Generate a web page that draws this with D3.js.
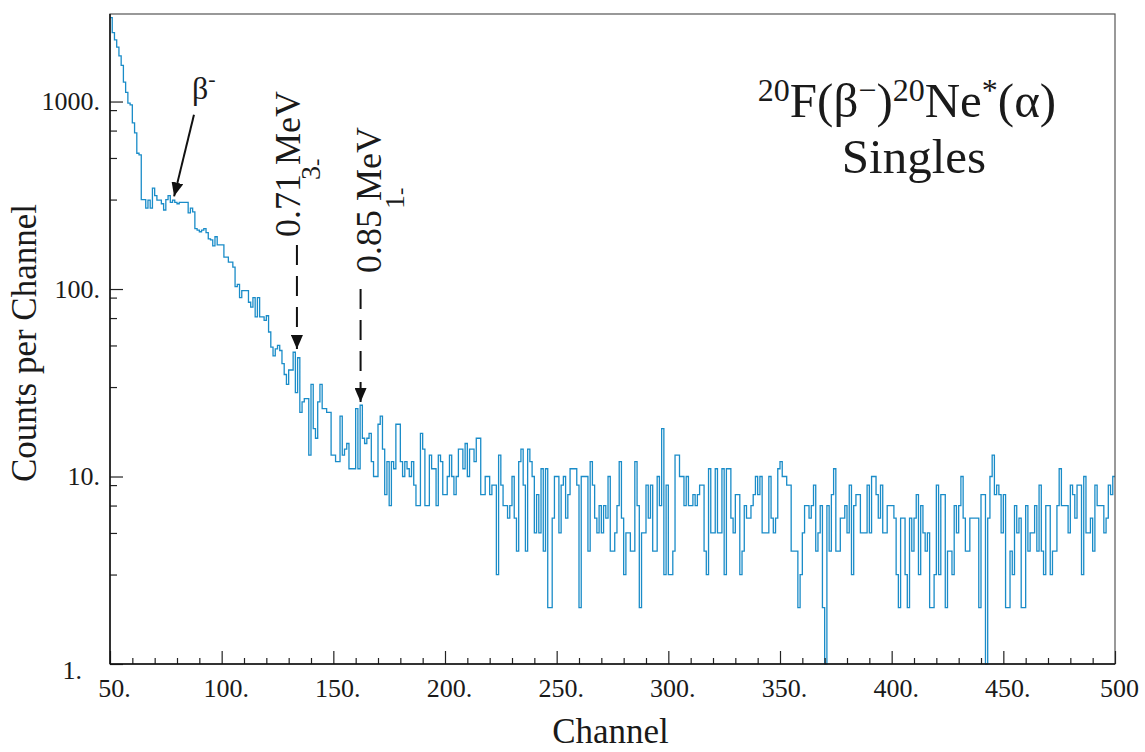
<!DOCTYPE html>
<html>
<head>
<meta charset="utf-8">
<script src="https://cdn.jsdelivr.net/npm/d3@7/dist/d3.min.js"></script>
<style>
  body { margin: 0; background: #fff; }
  svg, text { font-family: 'Liberation Serif', 'Times New Roman', serif; }
  text { fill: #1a1a1a; }
</style>
</head>
<body>
<svg id="chart" width="1145" height="752" font-family="Liberation Serif"></svg>
<script>
// histogram: one count per channel, first bin starts at channel 50
const firstChannel = 50;
const counts = [
  2800, 2330, 2130, 1950, 1750, 1560, 1270, 1120, 980, 960,
  770, 680, 530, 520, 300, 300, 270, 298, 270, 345,
  315, 298, 298, 285, 264, 300, 315, 290, 298, 290,
  285, 290, 290, 290, 290, 255, 270, 258, 210, 206,
  202, 206, 210, 200, 185, 183, 170, 190, 172, 172,
  172, 148, 148, 139, 139, 131, 103, 106, 90, 98,
  98, 98, 85, 80, 90, 71, 90, 71, 71, 68,
  72, 59, 49, 44, 48, 50, 47, 40, 35, 31,
  37, 37, 46, 28, 43, 22, 25, 26, 26, 13,
  31, 18, 16, 25, 31, 23, 23, 22, 22, 13,
  13, 12, 12, 21, 13, 14, 15, 11, 11, 11,
  23, 11, 24, 16, 15, 16, 17, 12, 10, 10,
  19, 21, 14, 8, 12, 7, 12, 11, 19, 19,
  12, 10, 12, 11, 10, 12, 9, 7, 7, 17,
  14, 7, 7, 13, 11, 11, 7, 13, 12, 8,
  8, 10, 13, 10, 8, 10, 14, 14, 11, 15,
  10, 14, 14, 12, 16, 16, 8, 8, 10, 10,
  8, 9, 9, 3, 13, 9, 7, 7, 6, 7,
  10, 6, 4, 12, 14, 9, 4, 14, 12, 10,
  5, 8, 5, 11, 4, 11, 2, 2, 6, 10,
  10, 5, 9, 10, 6, 8, 11, 11, 11, 9,
  2, 10, 10, 10, 4, 12, 9, 6, 5, 7,
  5, 7, 6, 10, 4, 4, 5, 7, 12, 6,
  3, 5, 5, 4, 4, 12, 7, 2, 5, 5,
  9, 6, 9, 4, 4, 10, 7, 18, 3, 9,
  3, 3, 4, 13, 13, 10, 10, 7, 10, 7,
  7, 8, 7, 8, 9, 9, 4, 3, 11, 5,
  5, 11, 5, 5, 11, 3, 11, 11, 6, 5,
  8, 8, 3, 4, 7, 6, 6, 7, 8, 10,
  8, 10, 5, 5, 5, 10, 6, 5, 6, 11,
  12, 10, 10, 9, 9, 4, 4, 4, 2, 3,
  5, 7, 7, 6, 7, 9, 4, 5, 7, 2,
  1, 7, 4, 8, 11, 4, 4, 6, 6, 7,
  5, 9, 3, 7, 8, 8, 5, 5, 5, 9,
  5, 10, 10, 8, 6, 9, 5, 5, 7, 7,
  7, 6, 3, 2, 6, 6, 3, 2, 6, 4,
  6, 8, 3, 7, 5, 4, 5, 2, 2, 3,
  9, 3, 8, 8, 2, 4, 4, 3, 7, 5,
  7, 10, 6, 4, 4, 6, 6, 6, 6, 2,
  8, 8, 1, 6, 10, 13, 8, 9, 8, 5,
  8, 2, 2, 4, 3, 7, 5, 6, 2, 2,
  7, 4, 5, 5, 7, 4, 9, 4, 3, 7,
  7, 3, 4, 4, 7, 11, 7, 7, 7, 5,
  9, 8, 6, 9, 9, 3, 10, 5, 5, 6,
  4, 9, 7, 7, 7, 5, 6, 9, 8, 10
];

const xMajor = [50, 100, 150, 200, 250, 300, 350, 400, 450, 500];
const xMajorLabels = ["50.", "100.", "150.", "200.", "250.", "300.", "350.", "400.", "450.", "500"];
const yMajor = [1, 10, 100, 1000];
const yMajorLabels = ["1.", "10.", "100.", "1000."];
const yMinorMultiples = [3, 5, 7, 9];

// level lines marked on the plot
const levels = [
  { energy: "0.71 MeV", spin: "3", channel: 133.7 },
  { energy: "0.85 MeV", spin: "1", channel: 162.2 }
];

const serif = "'Liberation Serif', 'Times New Roman', serif";
const svg = d3.select('#chart');
const width = 1145, height = 752;
const margin = { left: 110, right: 30, top: 14, bottom: 88 };
const plotW = width - margin.left - margin.right;
const plotH = height - margin.top - margin.bottom;

const x = d3.scaleLinear().domain([50, 500]).range([0, plotW]);
const y = d3.scaleLog().domain([1, 2930]).range([plotH, 0]);

const g = svg.append('g').attr('transform', `translate(${margin.left},${margin.top})`);

g.append('clipPath').attr('id', 'clip')
  .append('rect').attr('width', plotW).attr('height', plotH + 1);

// histogram as steps
let pts = counts.map((c, i) => [firstChannel + i, c]);
pts.push([firstChannel + counts.length, counts[counts.length - 1]]);
const step = d3.line()
  .x(d => x(d[0]))
  .y(d => y(d[1]))
  .curve(d3.curveStepAfter);

g.append('path')
  .datum(pts)
  .attr('clip-path', 'url(#clip)')
  .attr('fill', 'none')
  .attr('stroke', '#1a8cc8')
  .attr('stroke-width', 1.3)
  .attr('d', step);

// frame
g.append('rect')
  .attr('width', plotW).attr('height', plotH)
  .attr('fill', 'none').attr('stroke', '#555').attr('stroke-width', 1.2);

// x axis, ticks pointing in
let xMinor = d3.range(50, 501, 10).filter(v => xMajor.indexOf(v) < 0);
g.append('g').attr('transform', `translate(0,${plotH})`)
  .call(d3.axisBottom(x).tickValues(xMinor).tickSize(-6).tickFormat(''))
  .call(a => a.select('.domain').remove());
let xAxis = g.append('g').attr('transform', `translate(0,${plotH})`)
  .call(d3.axisBottom(x).tickValues(xMajor).tickSize(-13).tickPadding(15)
    .tickFormat((d, i) => xMajorLabels[i]))
  .call(a => a.select('.domain').remove())
  .attr('font-family', serif).attr('font-size', 26);
xAxis.selectAll('text')
  .attr('dx', 4)
  .style('font-family', serif).attr('fill', '#1a1a1a');

// y axis
let yMinor = [];
yMajor.forEach(d => yMinorMultiples.forEach(m => { if (d * m < 2930) yMinor.push(d * m); }));
g.append('g')
  .call(d3.axisLeft(y).tickValues(yMinor).tickSize(-7).tickFormat(''))
  .call(a => a.select('.domain').remove());
let yAxis = g.append('g')
  .call(d3.axisLeft(y).tickValues(yMajor).tickSize(-13).tickPadding(10)
    .tickFormat((d, i) => yMajorLabels[i]))
  .call(a => a.select('.domain').remove())
  .attr('font-family', serif).attr('font-size', 26);
yAxis.selectAll('text')
  .style('font-family', serif).attr('fill', '#1a1a1a');
// the lowest label sits left of the "50." label, as in the original
yAxis.selectAll('text').filter(d => d === 1).attr('dx', -18).attr('dy', '0.55em');

g.selectAll('.tick line').attr('stroke', '#222').attr('stroke-width', 1.2);

g.append('line').attr('x1', 0).attr('x2', plotW).attr('y1', plotH).attr('y2', plotH)
  .attr('stroke', '#111').attr('stroke-width', 1.5);
g.append('line').attr('x1', 0).attr('x2', 0).attr('y1', 0).attr('y2', plotH)
  .attr('stroke', '#111').attr('stroke-width', 1.5);

// axis titles
svg.append('text')
  .attr('x', margin.left + plotW / 2 - 2).attr('y', 743)
  .attr('text-anchor', 'middle').attr('font-size', 35)
  .text('Channel');
svg.append('text')
  .attr('transform', 'translate(36,343) rotate(-90)')
  .attr('text-anchor', 'middle').attr('font-size', 35)
  .text('Counts per Channel');

// reaction title
let t1 = svg.append('text').attr('x', 907).attr('y', 117)
  .attr('text-anchor', 'middle').attr('font-size', 49);
t1.append('tspan').attr('font-size', 32).attr('dy', -16).text('20');
t1.append('tspan').attr('dy', 16).text('F(β');
t1.append('tspan').attr('font-size', 32).attr('dy', -16).text('−');
t1.append('tspan').attr('dy', 16).text(')');
t1.append('tspan').attr('font-size', 32).attr('dy', -16).text('20');
t1.append('tspan').attr('dy', 16).text('Ne');
t1.append('tspan').attr('font-size', 32).attr('dy', -16).text('*');
t1.append('tspan').attr('dy', 16).text('(α)');

svg.append('text').attr('x', 914).attr('y', 173)
  .attr('text-anchor', 'middle').attr('font-size', 49)
  .text('Singles');

svg.selectAll('text').style('font-family', serif);

// arrow heads
const defs = svg.append('defs');
defs.append('marker').attr('id', 'head')
  .attr('viewBox', '0 0 14 12').attr('refX', 14).attr('refY', 6)
  .attr('markerWidth', 14).attr('markerHeight', 12)
  .attr('markerUnits', 'userSpaceOnUse').attr('orient', 'auto')
  .append('path').attr('d', 'M0,0 L14,6 L0,12 Z').attr('fill', '#111');

// beta label and arrow
let beta = svg.append('text').attr('x', 192).attr('y', 99).attr('font-size', 32)
  .style('font-family', serif);
beta.append('tspan').text('β');
beta.append('tspan').attr('font-size', 22).attr('dy', -13).text('-');
g.append('line')
  .attr('x1', x(87.6)).attr('y1', y(850))
  .attr('x2', x(78.7)).attr('y2', y(312))
  .attr('stroke', '#111').attr('stroke-width', 2)
  .attr('marker-end', 'url(#head)');

// level markers: dashed arrows with rotated labels
const labelBase = [{ top: 245, tip: 349, ex: 300, ey: 237, sx: 320, sy: 180 },
                   { top: 289, tip: 402, ex: 381, ey: 273, sx: 404, sy: 209 }];
levels.forEach((lv, i) => {
  let lb = labelBase[i];
  let px = margin.left + x(lv.channel);
  svg.append('line')
    .attr('x1', px).attr('x2', px).attr('y1', lb.top).attr('y2', lb.tip)
    .attr('stroke', '#111').attr('stroke-width', 2)
    .attr('stroke-dasharray', '20,11')
    .attr('marker-end', 'url(#head)');
  svg.append('text')
    .attr('transform', `translate(${lb.ex},${lb.ey}) rotate(-90)`)
    .attr('font-size', 36).style('font-family', serif)
    .text(lv.energy);
  let s = svg.append('text')
    .attr('transform', `translate(${lb.sx},${lb.sy}) rotate(-90)`)
    .attr('font-size', 28).style('font-family', serif);
  s.append('tspan').text(lv.spin);
  s.append('tspan').attr('font-size', 22).attr('dy', 3).text('-');
});
</script>
</body>
</html>
